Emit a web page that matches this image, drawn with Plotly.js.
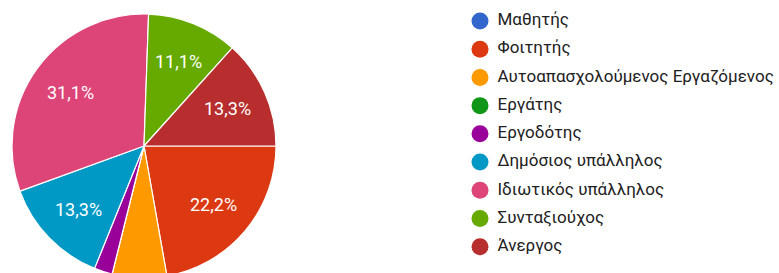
<!DOCTYPE html>
<html><head><meta charset="utf-8">
<script src="https://cdn.plot.ly/plotly-3.0.1.min.js"></script>
<style>html,body{margin:0;padding:0;overflow:hidden;background:#fff}#chart{width:779px;height:280px}</style>
</head><body><div id="chart"></div>
<script>
const categories = ["Μαθητής","Φοιτητής","Αυτοαπασχολούμενος Εργαζόμενος","Εργάτης","Εργοδότης","Δημόσιος υπάλληλος","Ιδιωτικός υπάλληλος","Συνταξιούχος","Άνεργος"];
const counts = [0,10,3,0,1,6,14,5,6];
const colors = ["#3366cc","#dc3912","#ff9900","#109618","#990099","#0099c6","#dd4477","#66aa00","#b82e2e"];

const total = counts.reduce((a,b)=>a+b,0);
const fmtPct = v => (v/total*100).toFixed(1).replace('.', ',') + '%';

const W = 779, H = 280;
const cx = 144, cy = 146, R = 132;
const START = 90; // degrees clockwise from 12 o'clock

const pie = {
  type: 'pie', labels: categories, values: counts, sort: false,
  direction: 'clockwise', rotation: START,
  marker: {colors: colors, line: {color: '#ffffff', width: 1.2}},
  textinfo: 'none',
  hoverinfo: 'label+percent', showlegend: false,
  domain: {x: [(cx-R)/W, (cx+R)/W], y: [1-(cy+R)/H, 1-(cy-R)/H]}
};

// slice labels placed at the mid-angle of each slice (hidden for small slices)
const annotations = [];
let acc = 0;
counts.forEach((v, i) => {
  const mid = START + (acc + v/2)/total*360;
  acc += v;
  if (v/total < 0.1) return;
  const a = mid*Math.PI/180, r = 0.69*R;
  annotations.push({
    xref: 'paper', yref: 'paper',
    x: (cx + r*Math.sin(a))/W, y: 1 - (cy - r*Math.cos(a))/H,
    text: fmtPct(v), showarrow: false, xanchor: 'center', yanchor: 'middle',
    font: {family: 'Roboto, Arial, sans-serif', size: 18, color: '#ffffff'}
  });
});

const legendDots = {
  type: 'scatter', mode: 'markers', x: categories.map(()=>0), y: categories,
  marker: {color: colors, size: 17, symbol: 'circle', line: {width: 0}},
  hoverinfo: 'skip', showlegend: false, cliponaxis: false
};
const legendText = {
  type: 'scatter', mode: 'text', x: categories.map(()=>17.5), y: categories,
  text: categories, textposition: 'middle right',
  textfont: {family: 'Roboto, Arial, sans-serif', size: 17, color: '#212121'},
  hoverinfo: 'skip', showlegend: false, cliponaxis: false
};

const y0 = 21, y8 = 246.7, step = (y8-y0)/8;
const layout = {
  width: W, height: H, margin: {l:0,r:0,t:0,b:0},
  paper_bgcolor: '#ffffff', plot_bgcolor: 'rgba(0,0,0,0)',
  showlegend: false, annotations: annotations,
  xaxis: {domain: [460/W, 1], range: [-20, 299], visible: false, fixedrange: true},
  yaxis: {domain: [1-(y8+step/2)/H, 1-(y0-step/2)/H], range: [8.5, -0.5], type: 'category', visible: false, fixedrange: true}
};

Plotly.newPlot('chart', [pie, legendDots, legendText], layout, {displayModeBar: false, staticPlot: true});
</script></body></html>
